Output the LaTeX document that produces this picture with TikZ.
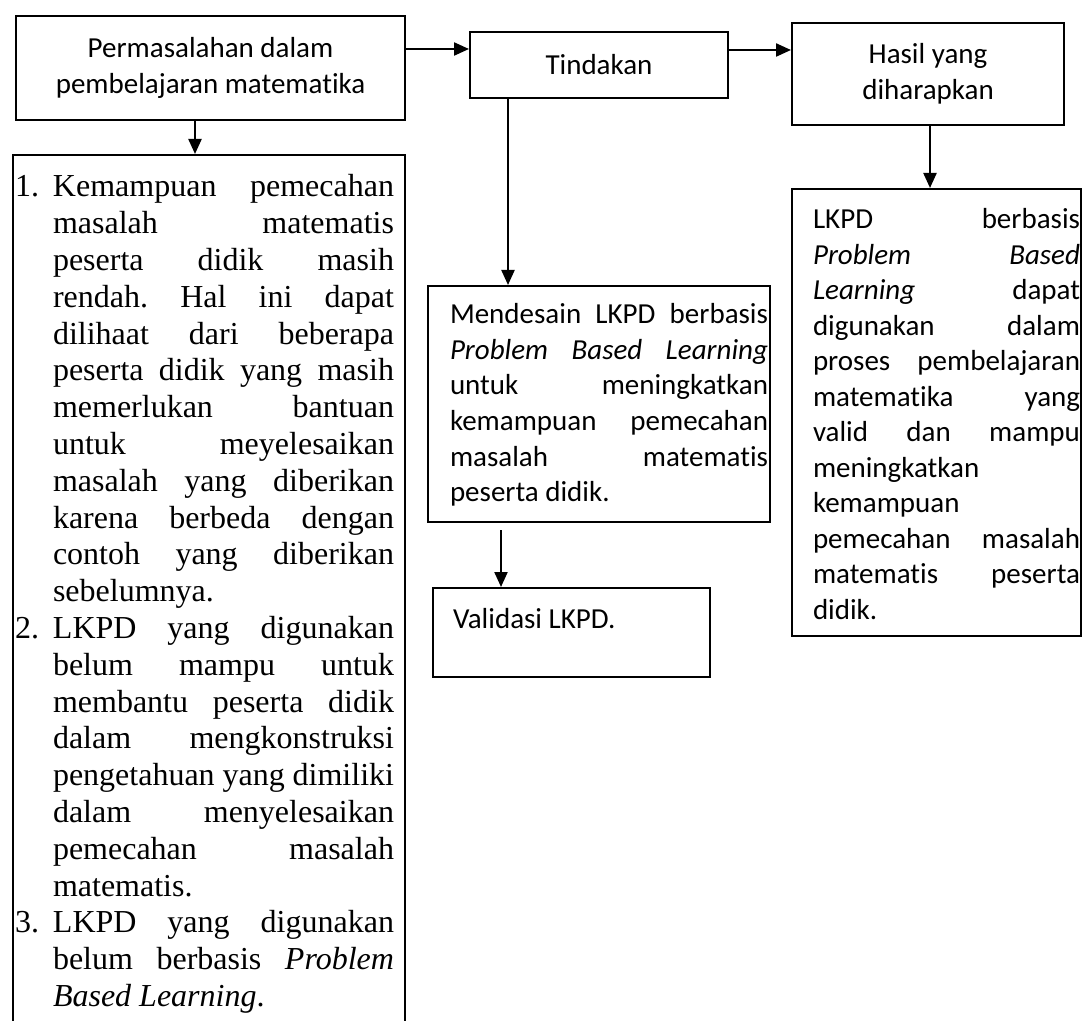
\documentclass[tikz,border=0pt]{standalone}
\usepackage{fontspec}
\setmainfont{Liberation Serif}
\newfontfamily\calibri[Ligatures={NoCommon}]{Carlito}
\usetikzlibrary{arrows.meta}

% per-box padding and text width for justified lines
\newdimen\padL
\newdimen\tw
\newcommand{\J}[1]{\noindent\hspace*{\padL}\makebox[\tw][s]{#1}\par}
\newcommand{\F}[1]{\noindent\hspace*{\padL}\makebox[\tw][l]{#1}\par}
% numbered list lines: number column + justified / flush-left text
\newcommand{\NJ}[2]{\noindent\hspace*{1pt}\makebox[19pt][l]{#1}\makebox[170.5pt][s]{#2}\par}
\newcommand{\NF}[2]{\noindent\hspace*{1pt}\makebox[19pt][l]{#1}\makebox[170.5pt][l]{#2}\par}

\begin{document}
\begin{tikzpicture}[x=0.5pt,y=-0.5pt,
  box/.style={draw, line width=1pt, inner sep=0pt},
  cfont/.style={font=\calibri\fontsize{14.5pt}{17.75pt}\selectfont},
  arr/.style={line width=1.1pt, -{Triangle[length=7.5pt,width=6.5pt]}}]
\useasboundingbox (0,0) rectangle (1086,1021);
\clip (0,0) rectangle (1086,1021);

% header boxes
\node[box, cfont, anchor=north west, minimum width=194.5pt, minimum height=52pt, align=center]
  (A) at (15,15) {Permasalahan dalam\\pembelajaran matematika};
\node[box, cfont, anchor=north west, minimum width=129pt, minimum height=33pt, align=center]
  (B) at (469,31) {Tindakan};
\node[box, cfont, anchor=north west, minimum width=136pt, minimum height=51pt, align=center]
  (C) at (791,22) {Hasil yang\\diharapkan};

% list of problems (box runs past the lower edge)
\node[box, anchor=north west] (L) at (12,154) {%
  \parbox[t][450pt][t]{196pt}{\frenchspacing\fontsize{16pt}{18.4pt}\selectfont
  \NJ{1.}{\rule{0pt}{21pt}Kemampuan pemecahan}
  \NJ{}{masalah matematis}
  \NJ{}{peserta didik masih}
  \NJ{}{rendah. Hal ini dapat}
  \NJ{}{dilihaat dari beberapa}
  \NJ{}{peserta didik yang masih}
  \NJ{}{memerlukan bantuan}
  \NJ{}{untuk meyelesaikan}
  \NJ{}{masalah yang diberikan}
  \NJ{}{karena berbeda dengan}
  \NJ{}{contoh yang diberikan}
  \NF{}{sebelumnya.}
  \NJ{2.}{LKPD yang digunakan}
  \NJ{}{belum mampu untuk}
  \NJ{}{membantu peserta didik}
  \NJ{}{dalam mengkonstruksi}
  \NJ{}{pengetahuan yang dimiliki}
  \NJ{}{dalam menyelesaikan}
  \NJ{}{pemecahan masalah}
  \NF{}{matematis.}
  \NJ{3.}{LKPD yang digunakan}
  \NJ{}{belum berbasis \textit{Problem}}
  \NF{}{\textit{Based Learning}.}}};

% action box
\node[box, anchor=north west] (M) at (427,285) {%
  \parbox[t][118pt][t]{171pt}{\frenchspacing\calibri\fontsize{14.5pt}{17.75pt}\selectfont
  \padL=11pt \tw=159pt
  \J{\rule{0pt}{19pt}Mendesain LKPD berbasis}
  \J{\textit{Problem Based Learning}}
  \J{untuk meningkatkan}
  \J{kemampuan pemecahan}
  \J{masalah matematis}
  \F{peserta didik.}}};

% validation box
\node[box, anchor=north west] (V) at (432,587) {%
  \parbox[t][44.5pt][t]{138.5pt}{\calibri\fontsize{14.5pt}{17.75pt}\selectfont
  \padL=10pt \tw=120pt
  \F{\rule{0pt}{20pt}Validasi LKPD.}}};

% expected result box
\node[box, anchor=north west] (R) at (791,188) {%
  \parbox[t][223.5pt][t]{144.5pt}{\frenchspacing\calibri\fontsize{14.5pt}{17.75pt}\selectfont
  \padL=10.5pt \tw=133.5pt
  \J{\rule{0pt}{20pt}LKPD berbasis}
  \J{\textit{Problem Based}}
  \J{\textit{Learning} dapat}
  \J{digunakan dalam}
  \J{proses pembelajaran}
  \J{matematika yang}
  \J{valid dan mampu}
  \F{meningkatkan}
  \F{kemampuan}
  \J{pemecahan masalah}
  \J{matematis peserta}
  \F{didik.}}};

% connectors
\coordinate (yAB) at (0,49);
\coordinate (yBC) at (0,50);
\coordinate (xAL) at (195,0);
\coordinate (xBM) at (508,0);
\coordinate (xCR) at (930,0);
\coordinate (mvs) at (501,530);
\draw[arr] (A.east |- yAB) -- (B.west |- yAB);
\draw[arr] (B.east |- yBC) -- (C.west |- yBC);
\draw[arr] (A.south -| xAL) -- (L.north -| xAL);
\draw[arr] (B.south -| xBM) -- (M.north -| xBM);
\draw[arr] (mvs) -- (V.north -| mvs);
\draw[arr] (C.south -| xCR) -- (R.north -| xCR);
\end{tikzpicture}
\end{document}
